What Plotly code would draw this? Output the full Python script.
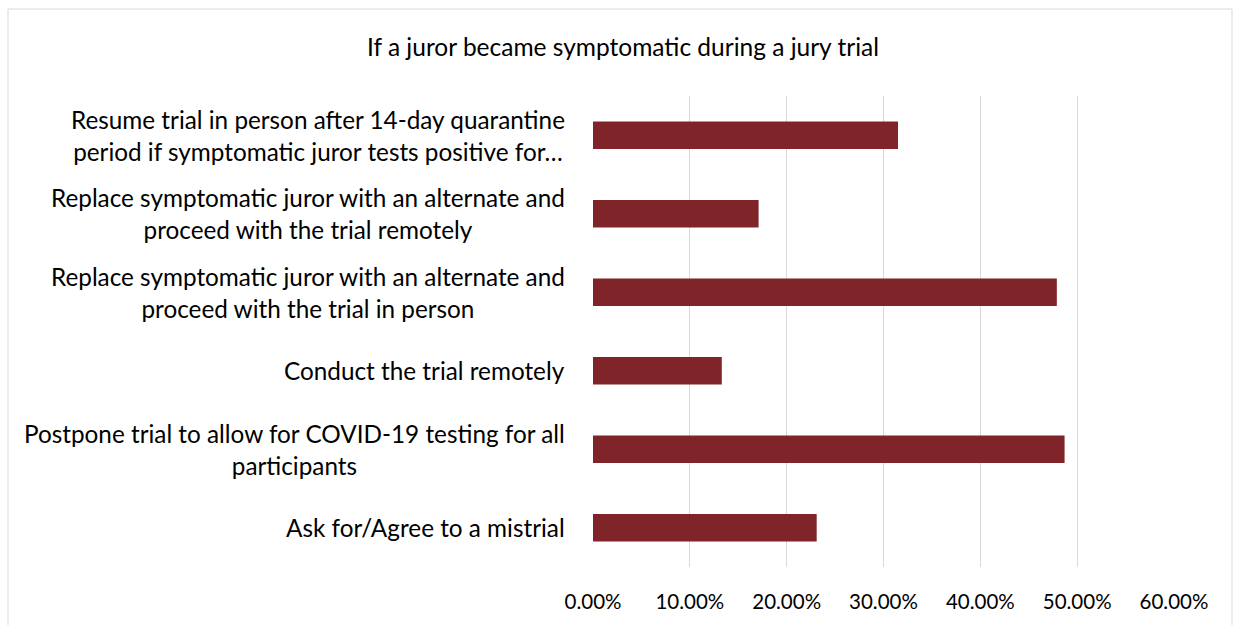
import plotly.graph_objects as go

categories = [
    "Resume trial in person after 14-day quarantine<br>period if symptomatic juror tests positive for…",
    "Replace symptomatic juror with an alternate and<br>proceed with the trial remotely",
    "Replace symptomatic juror with an alternate and<br>proceed with the trial in person",
    "Conduct the trial remotely",
    "Postpone trial to allow for COVID-19 testing for all<br>participants",
    "Ask for/Agree to a mistrial",
]
values = [0.315, 0.171, 0.479, 0.133, 0.487, 0.231]
tick_vals = [0, 0.1, 0.2, 0.3, 0.4, 0.5, 0.6]
tick_text = ["0.00%", "10.00%", "20.00%", "30.00%", "40.00%", "50.00%", "60.00%"]
title = "If a juror became symptomatic during a jury trial"

W, H = 1234, 625
L, R, T, B = 593, 1174, 96, 567

fig = go.Figure(go.Bar(
    y=categories, x=values, orientation="h",
    marker=dict(color="#7f2429", line=dict(width=0)),
    hoverinfo="x+y",
))

font = "Lato, 'Open Sans', sans-serif"
fig.update_layout(
    width=W, height=H,
    margin=dict(l=L, r=W - R, t=T, b=H - B, pad=0),
    paper_bgcolor="white", plot_bgcolor="white",
    showlegend=False,
    bargap=0.65,
    font=dict(family=font, size=24, color="#000000"),
    title=dict(text=title, x=623 / W, xanchor="center", y=1 - 47 / H, yanchor="middle",
               xref="container", yref="container", font=dict(size=24.5, family=font)),
    xaxis=dict(range=[0, 0.6], tickvals=tick_vals, ticktext=tick_text,
               showgrid=True, gridcolor="#d9d9d9", gridwidth=1, zeroline=False,
               showline=False, ticks="", ticklabelstandoff=20, fixedrange=True,
               tickfont=dict(size=20.5)),
    yaxis=dict(autorange="reversed", showgrid=False, showline=False, ticks="",
               showticklabels=False, fixedrange=True),
)

for cat in categories:
    fig.add_annotation(x=0, y=cat, xref="x", yref="y", text=cat, showarrow=False,
                       xanchor="right", yanchor="middle", align="center", xshift=-26,
                       font=dict(size=24.3, family=font, color="#000000"))

pw, ph = R - L, B - T
fig.add_shape(type="rect", xref="paper", yref="paper",
              x0=(8 - L) / pw, x1=(1232 - L) / pw,
              y0=(B - 640) / ph, y1=(B - 9) / ph,
              line=dict(color="#d9d9d9", width=1), fillcolor="rgba(0,0,0,0)", layer="below")

fig.write_html("out.html", config={"displayModeBar": False},
               post_script="document.body.style.margin='0';document.body.style.overflow='hidden';")
